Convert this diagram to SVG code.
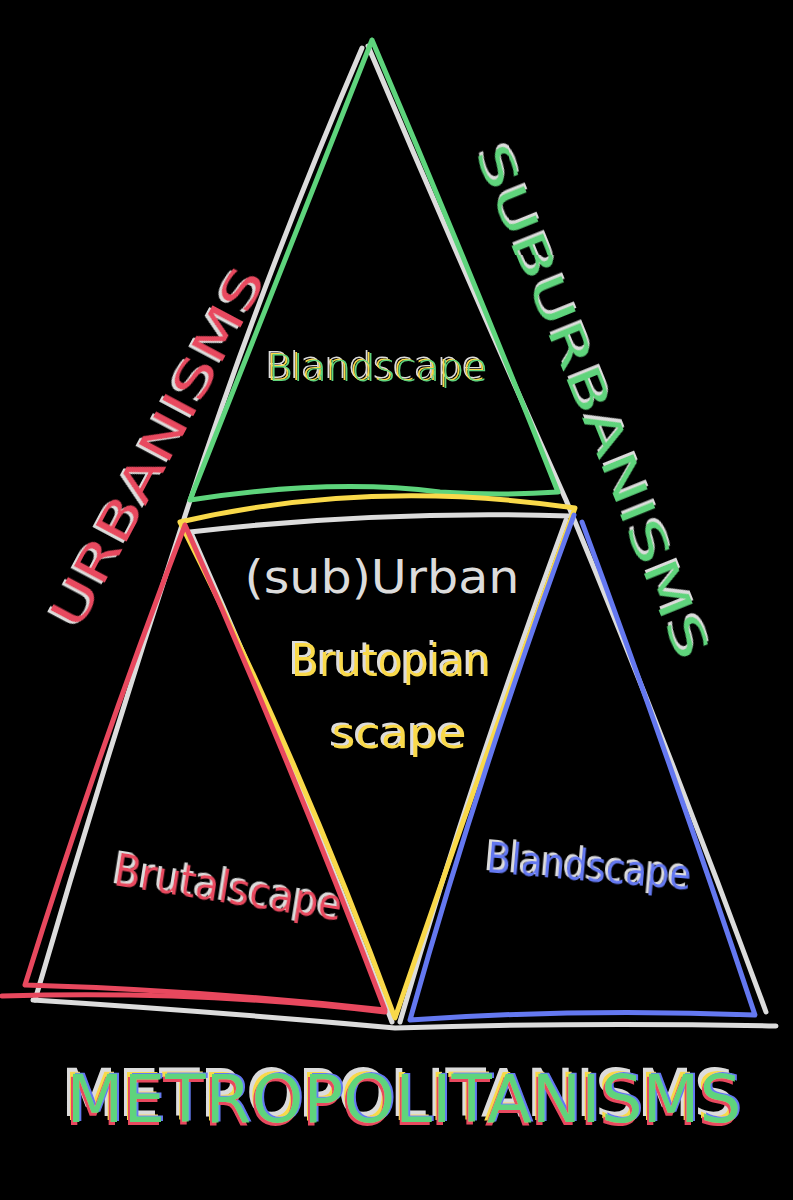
<svg xmlns="http://www.w3.org/2000/svg" width="793" height="1200" viewBox="0 0 793 1200">
<defs>
<style>
.ln{fill:none;stroke-width:5;stroke-linecap:round;stroke-linejoin:round}
.w{stroke:#dcdcdc}.g{stroke:#5ed47c}.y{stroke:#f9d94a}.r{stroke:#e8485e}.b{stroke:#6478f0}
.t{font-family:"DejaVu Sans","Liberation Sans",sans-serif;text-anchor:middle;dominant-baseline:middle}
.tw{fill:#dcdcdc}.tg{fill:#5ed47c}.ty{fill:#f9d94a}.tr{fill:#e8485e}.tb{fill:#6478f0}
</style>
<filter id="wshadow" x="-10%" y="-30%" width="120%" height="160%">
<feFlood flood-color="#dcdcdc" result="c"/>
<feComposite in="c" in2="SourceAlpha" operator="in" result="s"/>
<feOffset in="s" dx="-3" dy="-2" result="o"/>
<feMerge><feMergeNode in="o"/><feMergeNode in="SourceGraphic"/></feMerge>
</filter>
<filter id="wyshadow" x="-10%" y="-30%" width="120%" height="160%">
<feFlood flood-color="#dcdcdc" result="c1"/>
<feComposite in="c1" in2="SourceAlpha" operator="in" result="s1"/>
<feOffset in="s1" dx="-4" dy="-3" result="o1"/>
<feFlood flood-color="#f9d94a" result="c2"/>
<feComposite in="c2" in2="SourceAlpha" operator="in" result="s2"/>
<feOffset in="s2" dx="-2" dy="-1" result="o2"/>
<feMerge><feMergeNode in="o1"/><feMergeNode in="o2"/><feMergeNode in="SourceGraphic"/></feMerge>
</filter>
<filter id="multi" x="-5%" y="-30%" width="110%" height="160%">
<feFlood flood-color="#dcdcdc" result="c1"/>
<feComposite in="c1" in2="SourceAlpha" operator="in" result="s1"/>
<feOffset in="s1" dx="-6" dy="-6" result="o1"/>
<feFlood flood-color="#f9d94a" result="c2"/>
<feComposite in="c2" in2="SourceAlpha" operator="in" result="s2"/>
<feOffset in="s2" dx="-3" dy="-2" result="o2"/>
<feFlood flood-color="#6478f0" result="c3"/>
<feComposite in="c3" in2="SourceAlpha" operator="in" result="s3"/>
<feOffset in="s3" dx="2" dy="-1" result="o3"/>
<feFlood flood-color="#e8485e" result="c4"/>
<feComposite in="c4" in2="SourceAlpha" operator="in" result="s4"/>
<feOffset in="s4" dx="-2" dy="3" result="o4"/>
<feMerge><feMergeNode in="o1"/><feMergeNode in="o2"/><feMergeNode in="o3"/><feMergeNode in="o4"/><feMergeNode in="SourceGraphic"/></feMerge>
</filter>
</defs>
<rect width="793" height="1200" fill="#000"/>
<g id="connectors">
<path class="ln w" d="M362,48 Q258,290 183,522 Q105,760 35,1000"/>
<path class="ln w" d="M368,46 Q465,275 566,500 Q670,750 766,1012"/>
<path class="ln w" d="M33,1000 Q220,1012 395,1028 Q580,1022 776,1026"/>
<path class="ln w" d="M190,532 Q380,510 570,516"/>
<path class="ln w" d="M192,535 Q300,780 392,1022"/>
<path class="ln w" d="M566,520 Q470,780 400,1022"/>
<path class="ln g" d="M372,40 Q285,260 190,500 Q330,478 440,492 Q500,496 558,492 Q470,270 372,40"/>
<path class="ln y" d="M180,522 Q370,478 575,508 Q480,770 395,1018 Q300,760 180,522"/>
<path class="ln r" d="M185,525 Q95,760 25,985 Q200,990 385,1010 Q290,760 185,525"/>
<path class="ln r" d="M2,996 Q200,990 385,1012"/>
<path class="ln b" d="M574,515 Q480,770 410,1020 Q580,1008 755,1015 Q670,760 582,522"/>
</g>
<g id="urbanisms">
<text class="t tr" x="161" y="449" font-size="48" textLength="400" lengthAdjust="spacingAndGlyphs" transform="rotate(-62 161 449)" filter="url(#wshadow)">URBANISMS</text>
</g>
<g id="suburbanisms">
<text class="t tg" x="589" y="403" font-size="46" textLength="550" lengthAdjust="spacingAndGlyphs" transform="rotate(68 589 403)" filter="url(#wshadow)">SUBURBANISMS</text>
</g>
<g id="blandscape-top">
<text class="t tg" x="378" y="370" font-size="38" font-weight="300" textLength="220" lengthAdjust="spacingAndGlyphs" filter="url(#wyshadow)">Blandscape</text>
</g>
<g id="suburban">
<text class="t tw" x="382" y="580" font-size="46" textLength="275" lengthAdjust="spacingAndGlyphs">(sub)Urban</text>
</g>
<g id="brutopian">
<text class="t ty" x="391" y="664" font-size="44" textLength="200" lengthAdjust="spacingAndGlyphs" filter="url(#wshadow)">Brutopian</text>
<text class="t ty" x="399" y="736" font-size="42" textLength="135" lengthAdjust="spacingAndGlyphs" filter="url(#wshadow)">scape</text>
</g>
<g id="brutalscape">
<text class="t tr" x="228" y="891" font-size="44" textLength="230" lengthAdjust="spacingAndGlyphs" transform="rotate(9 228 891)" filter="url(#wshadow)">Brutalscape</text>
</g>
<g id="blandscape-bottom">
<text class="t tb" x="589" y="869" font-size="42" textLength="205" lengthAdjust="spacingAndGlyphs" transform="rotate(5 589 869)" filter="url(#wshadow)">Blandscape</text>
</g>
<g id="metropolitanisms">
<text class="t tg" x="404" y="1104" font-size="66" textLength="675" lengthAdjust="spacingAndGlyphs" filter="url(#multi)">METROPOLITANISMS</text>
</g>
</svg>
